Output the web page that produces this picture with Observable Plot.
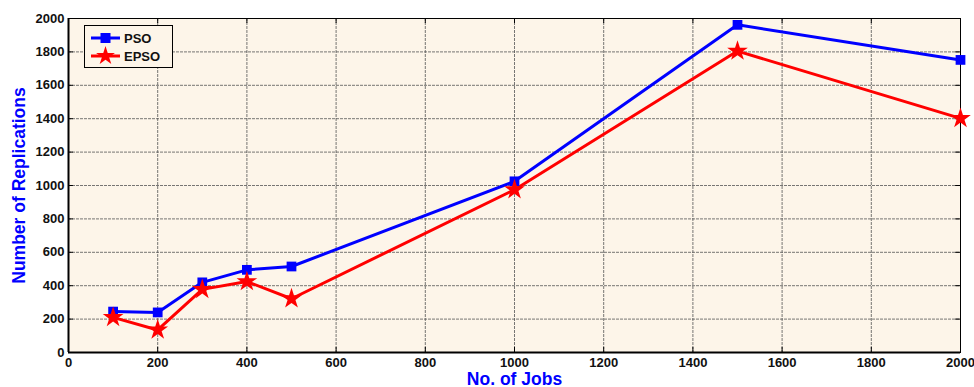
<!DOCTYPE html>
<html>
<head>
<meta charset="utf-8">
<script src="https://cdn.jsdelivr.net/npm/d3@7"></script>
<script src="https://cdn.jsdelivr.net/npm/@observablehq/plot@0.6"></script>
<style>
  html, body { margin: 0; padding: 0; background: #fff; }
  #wrap { position: relative; width: 974px; height: 387px; }
  #wrap svg text { font-family: "Liberation Sans", Arial, sans-serif; font-weight: bold; }
  #legend { position: absolute; left: 84px; top: 25px; }
</style>
</head>
<body>
<div id="wrap"></div>
<script>
const jobs = [100, 200, 300, 400, 500, 1000, 1500, 2000];
const pso  = [245, 240, 420, 495, 515, 1025, 1962, 1752];
const epso = [210, 135, 378, 425, 322, 975, 1805, 1402];
const xTicks = [0, 200, 400, 600, 800, 1000, 1200, 1400, 1600, 1800, 2000];
const yTicks = [0, 200, 400, 600, 800, 1000, 1200, 1400, 1600, 1800, 2000];
const seriesNames = ["PSO", "EPSO"];
const seriesColors = ["#0000ff", "#ff0000"];

const rows = [];
jobs.forEach((j, i) => {
  rows.push({series: "PSO", x: j, y: pso[i]});
  rows.push({series: "EPSO", x: j, y: epso[i]});
});
const psoRows = rows.filter(d => d.series === "PSO");
const epsoRows = rows.filter(d => d.series === "EPSO");
const fmt = d => String(d);

const chart = Plot.plot({
  width: 974,
  height: 387,
  marginLeft: 68,
  marginRight: 14,
  marginTop: 18,
  marginBottom: 35,
  style: {background: "#ffffff", fontSize: "13px"},
  x: {domain: [0, 2000], ticks: xTicks},
  y: {domain: [0, 2000], ticks: yTicks},
  marks: [
    Plot.frame({fill: "#fdf5e9", stroke: null}),
    Plot.gridX(xTicks, {stroke: "#555", strokeOpacity: 0.8, strokeWidth: 1, strokeDasharray: "3,1"}),
    Plot.gridY(yTicks, {stroke: "#555", strokeOpacity: 0.8, strokeWidth: 1, strokeDasharray: "3,1"}),
    Plot.ruleX(xTicks, {y1: 0, y2: 30, stroke: "#000"}),
    Plot.ruleX(xTicks, {y1: 1970, y2: 2000, stroke: "#000"}),
    Plot.ruleY(yTicks, {x1: 0, x2: 11, stroke: "#000"}),
    Plot.ruleY(yTicks, {x1: 1989, x2: 2000, stroke: "#000"}),
    Plot.frame({stroke: "#000", strokeWidth: 1}),
    Plot.axisX(xTicks, {tickSize: 0, tickPadding: 5, fill: "#111", tickFormat: fmt, label: "No. of Jobs", labelAnchor: "center", labelArrow: "none", labelOffset: 32, fontSize: 13}),
    Plot.axisY(yTicks, {tickSize: 0, tickPadding: 4, fill: "#111", tickFormat: fmt, label: "Number of Replications", labelAnchor: "center", labelArrow: "none", labelOffset: 56, fontSize: 13}),
    Plot.ruleY([0], {stroke: "#000", strokeWidth: 2}),
    Plot.ruleX([0], {stroke: "#000", strokeWidth: 2}),
    Plot.line(psoRows, {x: "x", y: "y", stroke: seriesColors[0], strokeWidth: 3}),
    Plot.line(epsoRows, {x: "x", y: "y", stroke: seriesColors[1], strokeWidth: 3}),
    Plot.dot(psoRows, {x: "x", y: "y", symbol: "square", fill: seriesColors[0], r: 5.5}),
    Plot.dot(epsoRows, {x: "x", y: "y", symbol: "star", fill: seriesColors[1], r: 6.5})
  ]
});
document.getElementById("wrap").appendChild(chart);

d3.select(chart).selectAll("g[aria-label='x-axis label'] text, g[aria-label='y-axis label'] text")
  .attr("fill", "#0000ff").style("font-size", "17.5px");

// legend
const leg = d3.select("#wrap").append("div").attr("id", "legend");
const lsvg = leg.append("svg").attr("width", 89).attr("height", 43);
lsvg.append("rect").attr("x", 0.5).attr("y", 0.5).attr("width", 88).attr("height", 42)
  .attr("fill", "#fdf5e9").attr("stroke", "#000").attr("stroke-width", 1);
seriesNames.forEach((name, i) => {
  const cy = 13 + i * 18;
  lsvg.append("line").attr("x1", 7).attr("x2", 36).attr("y1", cy).attr("y2", cy)
    .attr("stroke", seriesColors[i]).attr("stroke-width", 3);
  const sym = i === 0 ? d3.symbolSquare : d3.symbolStar;
  lsvg.append("path").attr("d", d3.symbol(sym, i === 0 ? 100 : 110)())
    .attr("transform", `translate(21.5,${cy})`).attr("fill", seriesColors[i]);
  lsvg.append("text").attr("x", 40).attr("y", cy + 5).text(name)
    .attr("font-family", "Liberation Sans, Arial, sans-serif").attr("font-weight", "bold")
    .attr("font-size", 13).attr("fill", "#111");
});
</script>
</body>
</html>
